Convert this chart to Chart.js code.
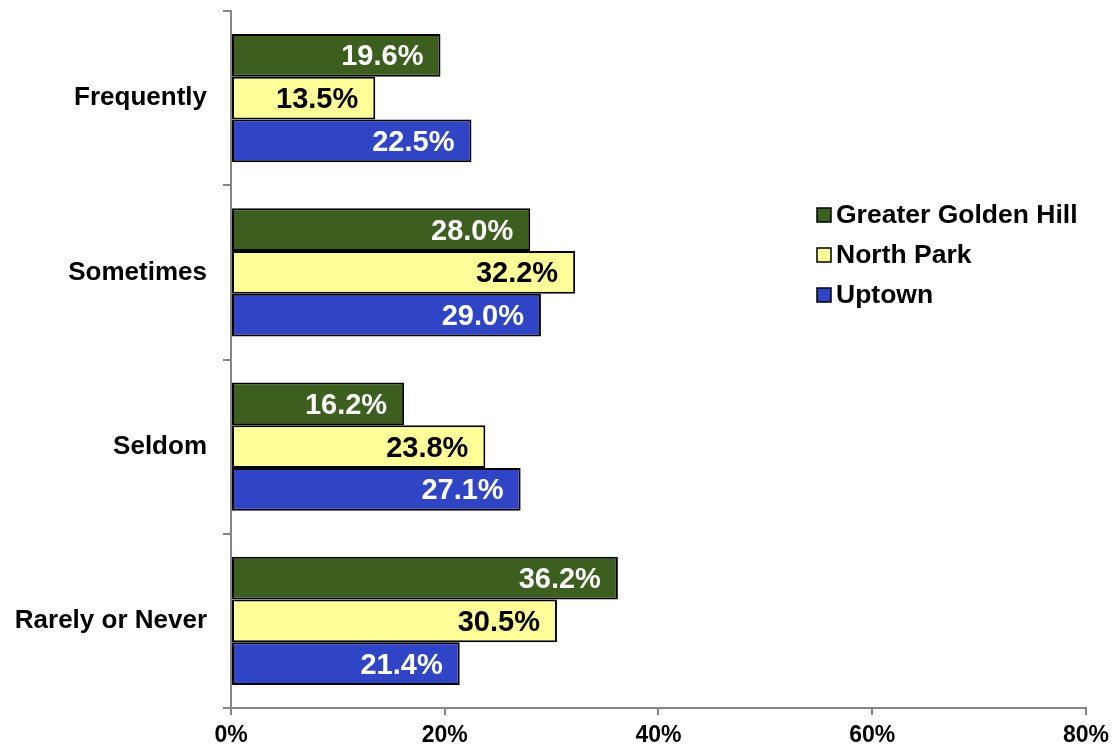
<!DOCTYPE html>
<html>
<head>
<meta charset="utf-8">
<script src="https://cdn.jsdelivr.net/npm/chart.js@4/dist/chart.umd.min.js"></script>
<style>
	html, body { margin: 0; padding: 0; background: #fff; }
	#wrap { width: 1116px; height: 748px; }
</style>
</head>
<body>
<div id="wrap"><canvas id="chart" width="1116" height="748"></canvas></div>
<script>
// Chart data
const categories = ['Frequently', 'Sometimes', 'Seldom', 'Rarely or Never'];
const seriesNames = ['Greater Golden Hill', 'North Park', 'Uptown'];
const goldenHill = [19.6, 28.0, 16.2, 36.2];
const northPark = [13.5, 32.2, 23.8, 30.5];
const uptown = [22.5, 29.0, 27.1, 21.4];
const xTicks = [0, 20, 40, 60, 80];

const fillColors = ['#3c5e1e', '#ffff99', '#2f45c6'];
const labelColors = ['#ffffff', '#000000', '#ffffff'];
const FONT = '"Liberation Sans", Arial, sans-serif';

// value labels drawn inside the end of each bar
const barLabels = {
	id: 'barLabels',
	afterDatasetsDraw(chart) {
		const {ctx} = chart;
		ctx.save();
		ctx.font = `bold 29px ${FONT}`;
		ctx.textAlign = 'right';
		ctx.textBaseline = 'middle';
		chart.data.datasets.forEach((ds, i) => {
			const meta = chart.getDatasetMeta(i);
			meta.data.forEach((bar, j) => {
				ctx.fillStyle = labelColors[i];
				ctx.fillText(ds.data[j].toFixed(1) + '%', bar.x - 17, bar.y + 2);
			});
		});
		ctx.restore();
	},
};

// legend sitting inside the plot, right side
const sideLegend = {
	id: 'sideLegend',
	afterDraw(chart) {
		const {ctx} = chart;
		ctx.save();
		ctx.font = `bold 26.5px ${FONT}`;
		ctx.textBaseline = 'middle';
		ctx.textAlign = 'left';
		seriesNames.forEach((name, i) => {
			const y = 215 + i * 40;
			ctx.fillStyle = fillColors[i];
			ctx.fillRect(817, y - 7, 14, 14);
			ctx.lineWidth = 1.5;
			ctx.strokeStyle = '#000';
			ctx.strokeRect(817, y - 7, 14, 14);
			ctx.fillStyle = '#000';
			ctx.fillText(name, 836, y + 1);
		});
		ctx.restore();
	},
};

const datasets = [goldenHill, northPark, uptown].map((values, i) => ({
	label: seriesNames[i],
	data: values,
	backgroundColor: fillColors[i],
	borderColor: '#000',
	borderWidth: 2,
	borderSkipped: false,
	barPercentage: 1,
	categoryPercentage: 0.735,
}));

new Chart(document.querySelector('#chart'), {
	type: 'bar',
	data: {labels: categories, datasets},
	plugins: [barLabels, sideLegend],
	options: {
		indexAxis: 'y',
		responsive: false,
		animation: false,
		layout: {padding: {top: 11, right: 28, left: 0, bottom: 0}},
		plugins: {legend: {display: false}, tooltip: {enabled: false}},
		scales: {
			x: {
				min: 0,
				max: 80,
				afterBuildTicks: (axis) => {
					axis.ticks = xTicks.map((v) => ({value: v}));
				},
				afterFit: (axis) => {
					axis.height = 40;
				},
				border: {color: '#868686', width: 2},
				grid: {drawOnChartArea: false, drawTicks: true, tickLength: 7, color: '#868686', lineWidth: 2},
				ticks: {
					color: '#000',
					padding: 7,
					font: {family: FONT, size: 23, weight: 'bold'},
					callback: (v) => v + '%',
				},
			},
			y: {
				afterFit: (axis) => {
					axis.width = 231;
					axis.paddingTop = 0;
					axis.paddingBottom = 0;
				},
				border: {color: '#868686', width: 2},
				grid: {drawOnChartArea: false, drawTicks: true, tickLength: 8, color: '#868686', lineWidth: 2},
				ticks: {
					color: '#000',
					padding: 16,
					font: {family: FONT, size: 26, weight: 'bold'},
				},
			},
		},
	},
});
</script>
</body>
</html>
